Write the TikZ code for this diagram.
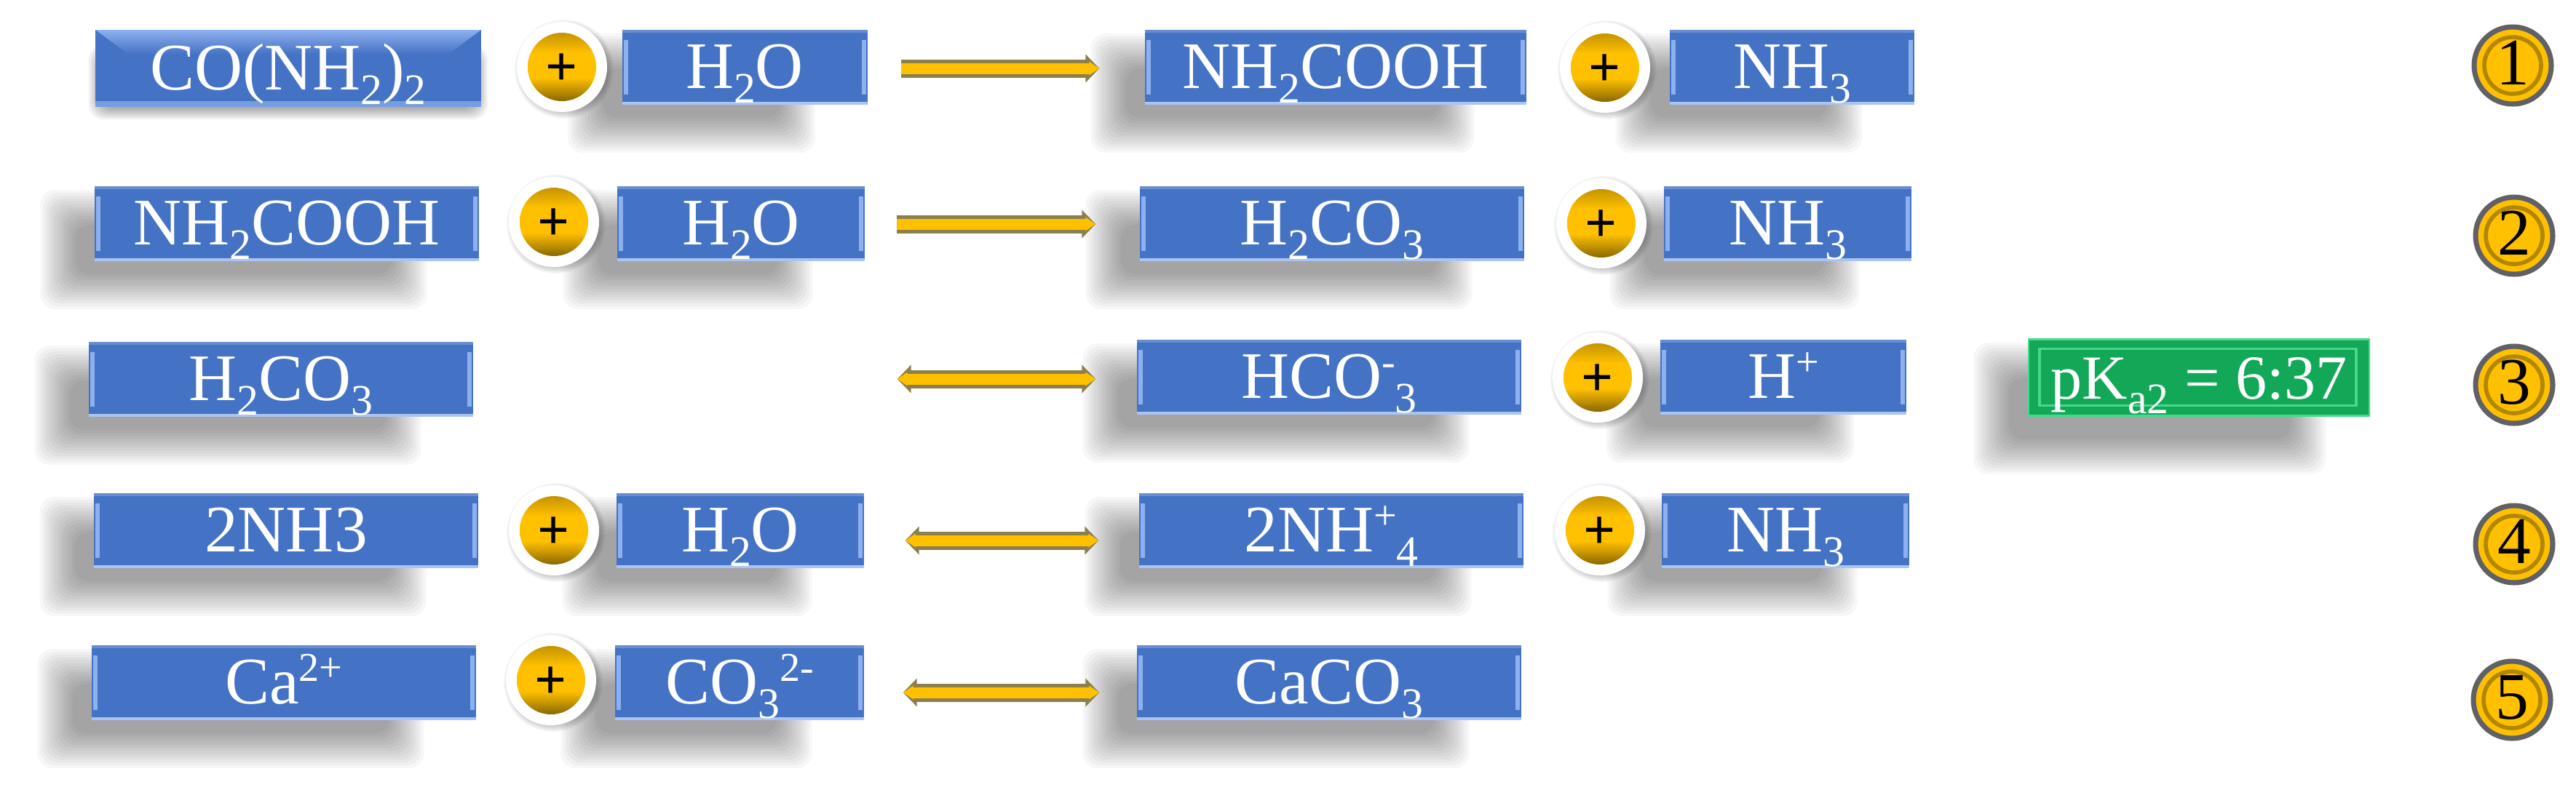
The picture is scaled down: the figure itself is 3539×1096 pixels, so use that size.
\documentclass[tikz,border=0pt]{standalone}
\usepackage{fontspec}
\setmainfont{Liberation Serif}
\usetikzlibrary{arrows.meta}
\usetikzlibrary{backgrounds}
\usetikzlibrary{calc}
\definecolor{boxblue}{HTML}{4472C4}
\definecolor{bevelblue}{HTML}{8DB0EE}
\definecolor{boxgreen}{HTML}{12A858}
\definecolor{bevelgreen}{HTML}{48D88C}
\definecolor{gold}{HTML}{FFC000}
\definecolor{rodolive}{HTML}{8C7F4E}
\definecolor{badgerim}{HTML}{5F6068}
\pgfdeclareverticalshading{goldball}{100bp}{color(0bp)=(gold!50!black); color(30bp)=(gold!50!black); color(44bp)=(gold); color(58bp)=(gold); color(70bp)=(gold!75!black); color(100bp)=(gold!75!black)}
\newcommand{\lowr}[1]{\raisebox{-5.7pt}{\fontsize{17}{17}\selectfont #1}}
\newcommand{\uppr}[1]{\raisebox{9pt}{\fontsize{16}{16}\selectfont #1}}
\newcommand{\softshadow}[5]{
	\foreach \k in {-6,...,6} {
		\fill[black, opacity=0.03, rounded corners=6]
			($(#1.north west)+(#2+\k*#5,30+\k*#5)$) rectangle ($(#1.south east)+(#3-\k*#5,#4-\k*#5)$);
	}
}
\begin{document}
\begin{tikzpicture}[
				x=0.01cm, y=-0.01cm,
				block/.style={text=white, fill=boxblue, inner sep=0pt, text height=17pt, text depth=0pt,
					font=\fontsize{26}{30}\selectfont, minimum height=103*0.01cm, minimum width=528*0.01cm,
					path picture={
						\path (path picture bounding box.north west) coordinate (nw) (path picture bounding box.south east) coordinate (se);
						\fill[bevelblue] ($(nw)+(2,14)$) rectangle ($(nw|-se)+(8,-14)$);
						\fill[bevelblue] ($(se|-nw)+(-8,14)$) rectangle ($(se)+(-2,-14)$);
						\fill[boxblue!80!white] (nw) rectangle ($(se|-nw)+(0,4)$);
						\fill[bevelblue!75!white] ($(nw|-se)+(0,-4)$) rectangle (se);
					}},
				short/.style={block, minimum width=340*0.01cm},
				raised/.style={block, path picture={
						\path (path picture bounding box.north west) coordinate (nw) (path picture bounding box.south east) coordinate (se);
						\shade[top color=bevelblue, bottom color=boxblue] (nw) -- (se|-nw) -- ($(se|-nw)+(-46,34)$) -- ($(nw)+(46,34)$) -- cycle;
						\fill[bevelblue!70!boxblue] ($(nw|-se)+(0,-8)$) rectangle (se);
					}},
				constant/.style={block, fill=boxgreen, font=\fontsize{24.5}{30}\selectfont, minimum width=470*0.01cm, minimum height=107*0.01cm, path picture={
						\path (path picture bounding box.north west) coordinate (nw) (path picture bounding box.south east) coordinate (se);
						\draw[bevelgreen, line width=1.1pt] ($(nw)+(16,14)$) rectangle ($(se)+(-19,-15)$);
						\draw[bevelgreen, line width=1.4pt] (nw) rectangle (se);
					}},
				plus/.style={circle, fill=white, minimum size=124*0.01cm, inner sep=0pt, text height=14.5pt, text depth=0pt,
					font=\fontsize{22}{24}\selectfont\bfseries, text=black, path picture={
						\shade[shading=goldball] (path picture bounding box.center) circle (47);
					}},
				badge/.style={circle, fill=gold, draw=badgerim, line width=2pt, minimum size=106*0.01cm, inner sep=0pt,
					text height=17pt, text depth=2pt, font=\fontsize{26}{30}\selectfont, text=black, path picture={
						\draw[gold!70!black, line width=1.6pt] (path picture bounding box.center) circle (39);
					}},
				rod/.style={line width=25*0.01cm, draw=rodolive},
				forward/.style={rod, -{Triangle[width=38*0.01cm, length=19*0.01cm]},
					postaction={draw=gold, line width=15*0.01cm, -{Triangle[width=18*0.01cm, length=14*0.01cm]}}},
				both/.style={rod, {Triangle[width=38*0.01cm, length=19*0.01cm]}-{Triangle[width=38*0.01cm, length=19*0.01cm]},
					postaction={draw=gold, line width=15*0.01cm, {Triangle[width=18*0.01cm, length=14*0.01cm]}-{Triangle[width=18*0.01cm, length=14*0.01cm]}}}
			]
				\useasboundingbox (0,0) rectangle (3539,1096);

				% row 1
				\node[raised, minimum width=530*0.01cm, minimum height=106*0.01cm] (urea) at (396,94) {CO(NH\lowr{2})\lowr{2}};
				\node[plus] (plusa) at (772,92) {+};
				\node[short, minimum width=337*0.01cm] (watera) at (1023,92) {H\lowr{2}O};
				\node[block, minimum width=524*0.01cm] (acida) at (1835,92) {NH\lowr{2}COOH};
				\node[plus] (plusb) at (2205,93) {+};
				\node[short, minimum width=336*0.01cm] (ammoniaa) at (2462,92) {NH\lowr{3}};

				% row 2
				\node[block] (acidb) at (394,307) {NH\lowr{2}COOH};
				\node[plus] (plusc) at (761,305) {+};
				\node[short] (waterb) at (1018,307) {H\lowr{2}O};
				\node[block] (carbonica) at (1830,307) {H\lowr{2}CO\lowr{3}};
				\node[plus] (plusd) at (2200,307) {+};
				\node[short] (ammoniab) at (2456,307) {NH\lowr{3}};

				% row 3
				\node[block] (carbonicb) at (386,521) {H\lowr{2}CO\lowr{3}};
				\node[block] (bicarb) at (1826,518) {HCO\uppr{-}\lowr{3}};
				\node[plus] (pluse) at (2195,519) {+};
				\node[short, minimum width=338*0.01cm] (proton) at (2450,518) {H\uppr{+}};
				\node[constant] (pka) at (3021,519) {pK\lowr{a2} = 6:37};

				% row 4
				\node[block] (ammoniac) at (393,729) {2NH3};
				\node[plus] (plusf) at (761,729) {+};
				\node[short] (waterc) at (1017,729) {H\lowr{2}O};
				\node[block] (ammonium) at (1829,729) {2NH\uppr{+}\lowr{4}};
				\node[plus] (plusg) at (2198,729) {+};
				\node[short] (ammoniad) at (2453,729) {NH\lowr{3}};

				% row 5
				\node[block] (calcium) at (390,938) {Ca\uppr{2+}};
				\node[plus] (plush) at (757,935) {+};
				\node[short, minimum width=342*0.01cm] (carbonate) at (1016,938) {CO\lowr{3}\uppr{2-}};
				\node[block] (calcite) at (1826,938) {CaCO\lowr{3}};

				% numbers
				\node[badge] (one) at (3452,90) {1};
				\node[badge] (two) at (3454,324) {2};
				\node[badge] (three) at (3454,529) {3};
				\node[badge] (four) at (3454,748) {4};
				\node[badge] (five) at (3451,962) {5};

				\draw[forward] ($(watera.east)+(46,2)$) -- ($(acida.west)+(-62,2)$);
				\draw[forward] ($(waterb.east)+(43,1)$) -- ($(carbonica.west)+(-60,1)$);
				\draw[both] ($(carbonicb.east)+(582,0)$) -- ($(bicarb.west)+(-56,3)$);
				\draw[both] ($(waterc.east)+(56,14)$) -- ($(ammonium.west)+(-55,14)$);
				\draw[both] ($(carbonate.east)+(53,14)$) -- ($(calcite.west)+(-51,14)$);

				\begin{scope}[on background layer]
					\fill[white] (0,0) rectangle (3539,1096);
					\softshadow{urea}{0}{0}{8}{1.5}
					\foreach \n in {watera,acida,ammoniaa,acidb,waterb,carbonica,ammoniab,carbonicb,bicarb,proton,ammoniac,waterc,ammonium,ammoniad,calcium,carbonate,calcite} {
						\softshadow{\n}{-50}{-96}{42}{4}
					}
					\softshadow{pka}{-50}{-85}{55}{4}
					\foreach \n in {plusa,plusb,plusc,plusd,pluse,plusf,plusg,plush} {
						\foreach \k in {0,...,5} {
							\fill[black, opacity=0.035] ($(\n)+(3,3)$) circle (60+\k*1.6);
						}
					}
				\end{scope}
			\end{tikzpicture}
\end{document}
